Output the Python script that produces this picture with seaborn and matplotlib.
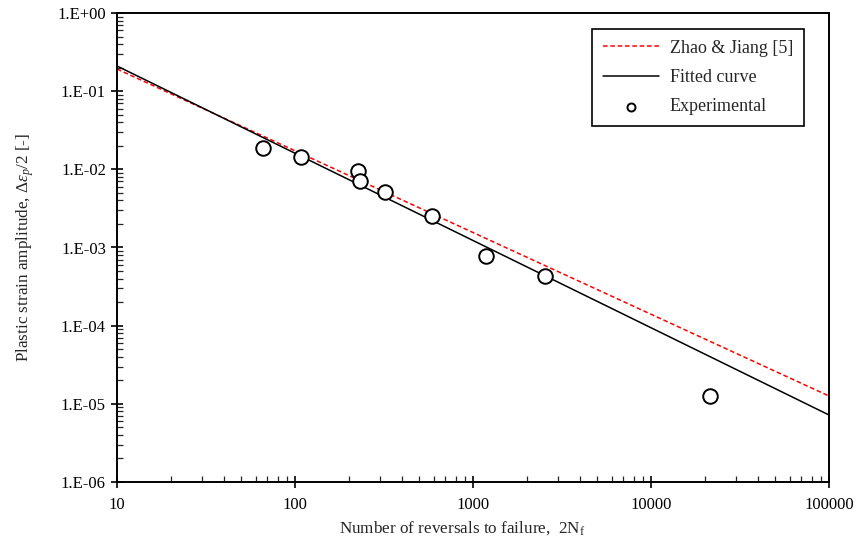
import matplotlib
matplotlib.use("Agg")
import matplotlib.pyplot as plt
import matplotlib.ticker as mticker
import seaborn as sns
import pandas as pd

# --- data ---
exp_cycles = [66, 108, 226, 232, 321, 589, 1183, 2535, 21400]
exp_strain = [0.0188, 0.0144, 0.0095, 0.0071, 0.0051, 0.00253, 0.00078, 0.00043, 0.0000126]

# straight lines on log-log axes, given by their end points
line_cycles = [10, 100000]
fitted_strain = [0.21, 7.2e-6]
zhao_strain = [0.192, 1.26e-5]

y_ticks = [1e-6, 1e-5, 1e-4, 1e-3, 1e-2, 1e-1, 1e0]
y_tick_labels = ["1.E-06", "1.E-05", "1.E-04", "1.E-03", "1.E-02", "1.E-01", "1.E+00"]
x_ticks = [10, 100, 1000, 10000, 100000]
x_tick_labels = ["10", "100", "1000", "10000", "100000"]

sns.set_style("ticks")
plt.rcParams["font.family"] = ["Liberation Serif", "DejaVu Serif"]
plt.rcParams["mathtext.fontset"] = "custom"
plt.rcParams["mathtext.rm"] = "Liberation Serif"
plt.rcParams["mathtext.it"] = "Liberation Serif:italic"
plt.rcParams["font.size"] = 12

exp_df = pd.DataFrame({"N": exp_cycles, "eps": exp_strain})
line_df = pd.DataFrame({"N": line_cycles, "fit": fitted_strain, "zhao": zhao_strain})

fig = plt.figure(figsize=(8.58, 5.42), dpi=100)
ax = fig.add_axes([117 / 858, 1 - 482 / 542, 712 / 858, 469 / 542])

sns.lineplot(data=line_df, x="N", y="zhao", ax=ax, color="red", linewidth=1.1,
             label="Zhao & Jiang [5]")
ax.lines[-1].set_dashes((3, 1.8))
sns.lineplot(data=line_df, x="N", y="fit", ax=ax, color="black", linewidth=1.1,
             label="Fitted curve")
sns.scatterplot(data=exp_df, x="N", y="eps", ax=ax, marker="o", s=110,
                facecolor="white", edgecolor="black", linewidth=1.4,
                label="Experimental", zorder=5)

ax.set_xscale("log")
ax.set_yscale("log")
ax.set_xlim(10, 100000)
ax.set_ylim(1e-6, 1)

ax.set_xticks(x_ticks)
ax.set_xticklabels(x_tick_labels)
ax.set_yticks(y_ticks)
ax.set_yticklabels(y_tick_labels)
ax.xaxis.set_minor_locator(mticker.LogLocator(base=10, subs=range(2, 10)))
ax.yaxis.set_minor_locator(mticker.LogLocator(base=10, subs=range(2, 10)))
ax.xaxis.set_minor_formatter(mticker.NullFormatter())
ax.yaxis.set_minor_formatter(mticker.NullFormatter())
ax.tick_params(which="major", direction="inout", length=8, width=1.2,
               labelsize=12, colors="black", pad=4)
ax.tick_params(axis="x", which="major", pad=7)
ax.tick_params(which="minor", direction="in", length=4, width=0.9)

for sp in ax.spines.values():
    sp.set_linewidth(1.4)
    sp.set_color("black")

ax.set_xlabel(r"Number of reversals to failure,  2N$_\mathrm{f}$", fontsize=12.3)
ax.xaxis.set_label_coords(0.485, -0.079)
ax.set_ylabel(r"Plastic strain amplitude, $\Delta\varepsilon_p$/2 [-]", fontsize=12.3)
ax.yaxis.set_label_coords(-0.114, 0.5)

leg = ax.legend(loc="upper right", bbox_to_anchor=(0.965, 0.966), fontsize=13,
                frameon=True, fancybox=False, framealpha=1, edgecolor="black",
                handlelength=3.1, labelspacing=0.68, borderpad=0.6,
                handletextpad=0.6, markerscale=0.55, borderaxespad=0)
leg.get_frame().set_linewidth(1.2)

fig.savefig("out.png", dpi=100)
